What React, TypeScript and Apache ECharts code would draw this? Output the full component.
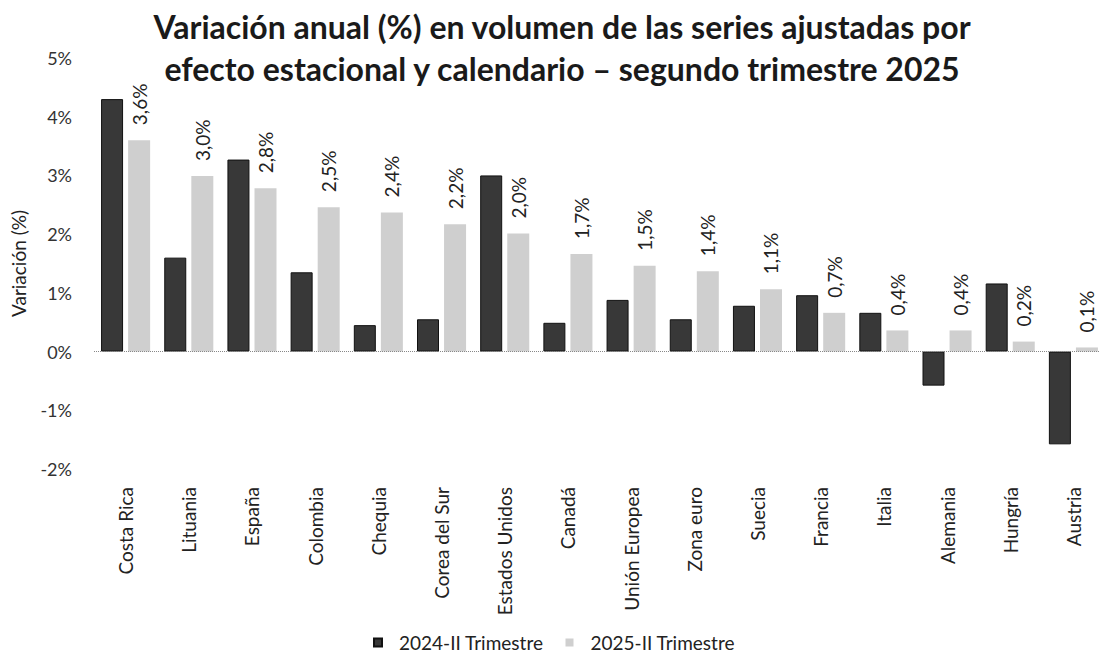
import React, { useEffect, useRef } from "react";
import * as echarts from "echarts";

const categories = [
  "Costa Rica", "Lituania", "España", "Colombia", "Chequia", "Corea del Sur",
  "Estados Unidos", "Canadá", "Unión Europea", "Zona euro", "Suecia", "Francia",
  "Italia", "Alemania", "Hungría", "Austria",
];
const series2024 = [4.3, 1.6, 3.27, 1.35, 0.45, 0.55, 3.0, 0.49, 0.88, 0.55, 0.78, 0.96, 0.66, -0.58, 1.16, -1.58];
const series2025 = [3.6, 2.99, 2.78, 2.46, 2.37, 2.17, 2.01, 1.66, 1.46, 1.37, 1.06, 0.66, 0.36, 0.36, 0.17, 0.07];
const yTicks = { min: -2, max: 5, interval: 1 };
const titleLines = [
  "Variación anual (%) en volumen de las series ajustadas por",
  "efecto estacional y calendario – segundo trimestre 2025",
];
const legendNames = ["2024-II Trimestre", "2025-II Trimestre"];

const FONT = "Lato";

export default function App() {
  const ref = useRef<HTMLDivElement>(null);
  useEffect(() => {
    if (!ref.current) return;
    const chart = echarts.init(ref.current, undefined, { renderer: "svg" });
    chart.setOption({
      animation: false,
      backgroundColor: "#ffffff",
      textStyle: { fontFamily: FONT },
      title: {
        text: titleLines.join("\n"),
        left: 557,
        textAlign: "center",
        top: 0,
        textStyle: {
          fontFamily: FONT,
          fontWeight: "bold",
          fontSize: 32,
          lineHeight: 42,
          color: "#1a1a1a",
        },
      },
      legend: {
        bottom: 0,
        left: 368,
        itemWidth: 8,
        itemHeight: 8,
        itemGap: 22,
        icon: "rect",
        textStyle: { fontFamily: FONT, fontSize: 19, color: "#222", padding: [0, 0, 0, 12] },
        data: legendNames,
      },
      grid: { left: 94, right: 0, top: 58, bottom: 188, containLabel: false },
      xAxis: {
        type: "category",
        data: categories,
        axisLine: { show: false },
        axisTick: { show: false },
        axisLabel: {
          rotate: 90,
          interval: 0,
          margin: 18,
          fontFamily: FONT,
          fontSize: 19,
          color: "#222",
        },
      },
      yAxis: {
        type: "value",
        min: yTicks.min,
        max: yTicks.max,
        interval: yTicks.interval,
        name: "Variación (%)",
        nameLocation: "middle",
        nameGap: 66,
        nameTextStyle: { fontFamily: FONT, fontSize: 19, color: "#222" },
        axisLine: { show: false },
        axisTick: { show: false },
        splitLine: { show: false },
        axisLabel: {
          formatter: (v: number) => `${v}%`,
          margin: 22,
          fontFamily: FONT,
          fontSize: 18,
          color: "#333",
        },
      },
      series: [
        {
          name: legendNames[0],
          type: "bar",
          data: series2024,
          barWidth: 22,
          barGap: "23%",
          itemStyle: { color: "#383838", borderColor: "#111", borderWidth: 1 },
          markLine: {
            silent: true,
            symbol: "none",
            label: { show: false },
            lineStyle: { type: "dotted", color: "#888", width: 1 },
            data: [{ yAxis: 0 }],
          },
        },
        {
          name: legendNames[1],
          type: "bar",
          data: series2025,
          barWidth: 22,
          itemStyle: { color: "#cfcfcf" },
          label: {
            show: true,
            position: "top",
            rotate: 90,
            align: "left",
            verticalAlign: "middle",
            distance: 15,
            fontFamily: FONT,
            fontSize: 19,
            color: "#222",
            formatter: (p: any) => `${Number(p.value).toFixed(1).replace(".", ",")}%`,
          },
        },
      ],
    });
    return () => chart.dispose();
  }, []);
  return (
    <div
      ref={ref}
      style={{ position: "fixed", left: 0, top: 0, width: 1105, height: 657 }}
    />
  );
}
